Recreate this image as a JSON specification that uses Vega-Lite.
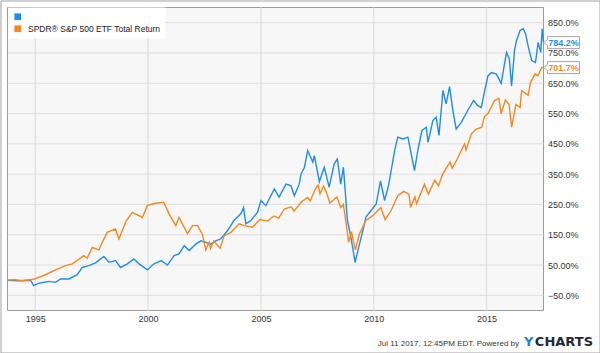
{
  "$schema": "https://vega.github.io/schema/vega-lite/v6.json",
  "width": 599,
  "height": 352,
  "autosize": {"type": "none"},
  "padding": {"left": 0.5, "top": 0.5, "right": 0.5, "bottom": 0.5},
  "background": "#ffffff",
  "config": {"view": {"stroke": "#a0a0a0", "strokeWidth": 1}, "font": "Liberation Sans", "axis": {"labelOverlap": false, "labelBound": false}},
  "title": {"text": "Y", "orient": "bottom", "anchor": "end", "frame": "group", "offset": -7, "dx": -66, "baseline": "alphabetic", "font": "DejaVu Sans", "fontSize": 13, "fontWeight": "bold", "color": "#1a86d8"},
  "datasets": {
    "xt": [{"t": "1995-01-01"}, {"t": "2000-01-01"}, {"t": "2005-01-01"}, {"t": "2010-01-01"}, {"t": "2015-01-01"}],
    "yt": [{"v": -50}, {"v": 50}, {"v": 150}, {"v": 250}, {"v": 350}, {"v": 450}, {"v": 550}, {"v": 650}, {"v": 750}, {"v": 850}],
    "s": [
      {"date": "1993-10-08", "series": "", "value": 0},
      {"date": "1994-04-08", "series": "", "value": -2},
      {"date": "1994-10-15", "series": "", "value": 0},
      {"date": "1994-12-05", "series": "", "value": -18},
      {"date": "1995-03-01", "series": "", "value": -10},
      {"date": "1995-08-08", "series": "", "value": -4},
      {"date": "1995-11-24", "series": "", "value": -7},
      {"date": "1996-02-15", "series": "", "value": 4},
      {"date": "1996-06-28", "series": "", "value": 4},
      {"date": "1996-11-10", "series": "", "value": 18},
      {"date": "1997-01-30", "series": "", "value": 42},
      {"date": "1997-05-18", "series": "", "value": 48},
      {"date": "1997-09-02", "series": "", "value": 57},
      {"date": "1998-01-15", "series": "", "value": 78},
      {"date": "1998-04-08", "series": "", "value": 59},
      {"date": "1998-07-22", "series": "", "value": 65},
      {"date": "1998-10-12", "series": "", "value": 42},
      {"date": "1999-01-30", "series": "", "value": 54},
      {"date": "1999-05-15", "series": "", "value": 70},
      {"date": "1999-08-08", "series": "", "value": 54},
      {"date": "1999-12-20", "series": "", "value": 34},
      {"date": "2000-04-05", "series": "", "value": 54},
      {"date": "2000-08-01", "series": "", "value": 65},
      {"date": "2000-11-10", "series": "", "value": 50},
      {"date": "2001-02-25", "series": "", "value": 81},
      {"date": "2001-05-15", "series": "", "value": 87},
      {"date": "2001-08-08", "series": "", "value": 114},
      {"date": "2001-10-28", "series": "", "value": 98},
      {"date": "2002-02-10", "series": "", "value": 119},
      {"date": "2002-05-05", "series": "", "value": 130},
      {"date": "2002-07-23", "series": "", "value": 125},
      {"date": "2002-10-12", "series": "", "value": 119},
      {"date": "2003-01-01", "series": "", "value": 130},
      {"date": "2003-03-22", "series": "", "value": 136},
      {"date": "2003-07-08", "series": "", "value": 163},
      {"date": "2003-10-22", "series": "", "value": 197},
      {"date": "2004-02-10", "series": "", "value": 219},
      {"date": "2004-03-25", "series": "", "value": 240},
      {"date": "2004-05-01", "series": "", "value": 186},
      {"date": "2004-07-22", "series": "", "value": 197},
      {"date": "2004-11-05", "series": "", "value": 224},
      {"date": "2005-01-01", "series": "", "value": 263},
      {"date": "2005-03-22", "series": "", "value": 246},
      {"date": "2005-08-05", "series": "", "value": 301},
      {"date": "2005-10-22", "series": "", "value": 274},
      {"date": "2006-02-10", "series": "", "value": 317},
      {"date": "2006-05-01", "series": "", "value": 312},
      {"date": "2006-06-25", "series": "", "value": 279},
      {"date": "2006-09-12", "series": "", "value": 317},
      {"date": "2006-10-12", "series": "", "value": 350},
      {"date": "2006-12-05", "series": "", "value": 372},
      {"date": "2007-01-28", "series": "", "value": 428},
      {"date": "2007-04-20", "series": "", "value": 390},
      {"date": "2007-05-15", "series": "", "value": 411},
      {"date": "2007-08-05", "series": "", "value": 325},
      {"date": "2007-10-22", "series": "", "value": 373},
      {"date": "2008-01-10", "series": "", "value": 307},
      {"date": "2008-04-01", "series": "", "value": 384},
      {"date": "2008-05-22", "series": "", "value": 400},
      {"date": "2008-07-15", "series": "", "value": 317},
      {"date": "2008-08-28", "series": "", "value": 373},
      {"date": "2008-11-01", "series": "", "value": 197},
      {"date": "2008-12-28", "series": "", "value": 141},
      {"date": "2009-03-05", "series": "", "value": 59},
      {"date": "2009-05-15", "series": "", "value": 119},
      {"date": "2009-07-08", "series": "", "value": 163},
      {"date": "2009-08-28", "series": "", "value": 208},
      {"date": "2009-11-18", "series": "", "value": 230},
      {"date": "2010-02-10", "series": "", "value": 252},
      {"date": "2010-04-20", "series": "", "value": 328},
      {"date": "2010-06-25", "series": "", "value": 263},
      {"date": "2010-08-28", "series": "", "value": 312},
      {"date": "2010-12-05", "series": "", "value": 428},
      {"date": "2011-01-25", "series": "", "value": 472},
      {"date": "2011-04-20", "series": "", "value": 466},
      {"date": "2011-07-08", "series": "", "value": 472},
      {"date": "2011-08-20", "series": "", "value": 428},
      {"date": "2011-10-22", "series": "", "value": 362},
      {"date": "2011-12-15", "series": "", "value": 428},
      {"date": "2012-02-20", "series": "", "value": 494},
      {"date": "2012-05-01", "series": "", "value": 505},
      {"date": "2012-05-28", "series": "", "value": 455},
      {"date": "2012-08-15", "series": "", "value": 527},
      {"date": "2012-10-08", "series": "", "value": 538},
      {"date": "2012-11-22", "series": "", "value": 478},
      {"date": "2012-12-28", "series": "", "value": 560},
      {"date": "2013-01-25", "series": "", "value": 626},
      {"date": "2013-03-18", "series": "", "value": 582},
      {"date": "2013-05-12", "series": "", "value": 639},
      {"date": "2013-07-05", "series": "", "value": 560},
      {"date": "2013-08-28", "series": "", "value": 499},
      {"date": "2013-11-18", "series": "", "value": 521},
      {"date": "2014-03-03", "series": "", "value": 560},
      {"date": "2014-06-05", "series": "", "value": 593},
      {"date": "2014-08-12", "series": "", "value": 576},
      {"date": "2014-10-08", "series": "", "value": 570},
      {"date": "2014-12-02", "series": "", "value": 626},
      {"date": "2015-01-25", "series": "", "value": 675},
      {"date": "2015-03-22", "series": "", "value": 685},
      {"date": "2015-06-10", "series": "", "value": 680},
      {"date": "2015-08-25", "series": "", "value": 650},
      {"date": "2015-11-20", "series": "", "value": 752},
      {"date": "2016-01-05", "series": "", "value": 730},
      {"date": "2016-02-10", "series": "", "value": 640},
      {"date": "2016-03-30", "series": "", "value": 760},
      {"date": "2016-05-01", "series": "", "value": 791},
      {"date": "2016-06-25", "series": "", "value": 824},
      {"date": "2016-08-18", "series": "", "value": 830},
      {"date": "2016-09-25", "series": "", "value": 813},
      {"date": "2016-11-08", "series": "", "value": 769},
      {"date": "2017-01-01", "series": "", "value": 725},
      {"date": "2017-03-03", "series": "", "value": 719},
      {"date": "2017-04-15", "series": "", "value": 785},
      {"date": "2017-05-28", "series": "", "value": 752},
      {"date": "2017-06-20", "series": "", "value": 830},
      {"date": "2017-07-11", "series": "", "value": 784.2},
      {"date": "1993-10-08", "series": "SPDR® S&P 500 ETF Total Return", "value": 0},
      {"date": "1994-02-01", "series": "SPDR® S&P 500 ETF Total Return", "value": 2},
      {"date": "1994-06-01", "series": "SPDR® S&P 500 ETF Total Return", "value": -2},
      {"date": "1994-12-05", "series": "SPDR® S&P 500 ETF Total Return", "value": 3},
      {"date": "1995-06-13", "series": "SPDR® S&P 500 ETF Total Return", "value": 18},
      {"date": "1995-11-24", "series": "SPDR® S&P 500 ETF Total Return", "value": 34},
      {"date": "1996-05-05", "series": "SPDR® S&P 500 ETF Total Return", "value": 48},
      {"date": "1996-08-22", "series": "SPDR® S&P 500 ETF Total Return", "value": 54},
      {"date": "1997-02-25", "series": "SPDR® S&P 500 ETF Total Return", "value": 81},
      {"date": "1997-04-20", "series": "SPDR® S&P 500 ETF Total Return", "value": 73},
      {"date": "1997-07-12", "series": "SPDR® S&P 500 ETF Total Return", "value": 108},
      {"date": "1997-10-27", "series": "SPDR® S&P 500 ETF Total Return", "value": 100},
      {"date": "1997-12-20", "series": "SPDR® S&P 500 ETF Total Return", "value": 125},
      {"date": "1998-03-10", "series": "SPDR® S&P 500 ETF Total Return", "value": 158},
      {"date": "1998-07-22", "series": "SPDR® S&P 500 ETF Total Return", "value": 169},
      {"date": "1998-09-15", "series": "SPDR® S&P 500 ETF Total Return", "value": 136},
      {"date": "1999-01-10", "series": "SPDR® S&P 500 ETF Total Return", "value": 195},
      {"date": "1999-04-20", "series": "SPDR® S&P 500 ETF Total Return", "value": 224},
      {"date": "1999-10-01", "series": "SPDR® S&P 500 ETF Total Return", "value": 207},
      {"date": "1999-12-20", "series": "SPDR® S&P 500 ETF Total Return", "value": 246},
      {"date": "2000-04-05", "series": "SPDR® S&P 500 ETF Total Return", "value": 253},
      {"date": "2000-09-10", "series": "SPDR® S&P 500 ETF Total Return", "value": 257},
      {"date": "2000-12-05", "series": "SPDR® S&P 500 ETF Total Return", "value": 219},
      {"date": "2001-03-25", "series": "SPDR® S&P 500 ETF Total Return", "value": 180},
      {"date": "2001-05-15", "series": "SPDR® S&P 500 ETF Total Return", "value": 208},
      {"date": "2001-09-30", "series": "SPDR® S&P 500 ETF Total Return", "value": 153},
      {"date": "2001-12-20", "series": "SPDR® S&P 500 ETF Total Return", "value": 180},
      {"date": "2002-03-10", "series": "SPDR® S&P 500 ETF Total Return", "value": 181},
      {"date": "2002-05-30", "series": "SPDR® S&P 500 ETF Total Return", "value": 150},
      {"date": "2002-07-23", "series": "SPDR® S&P 500 ETF Total Return", "value": 100},
      {"date": "2002-09-15", "series": "SPDR® S&P 500 ETF Total Return", "value": 125},
      {"date": "2002-10-10", "series": "SPDR® S&P 500 ETF Total Return", "value": 105},
      {"date": "2002-12-01", "series": "SPDR® S&P 500 ETF Total Return", "value": 130},
      {"date": "2003-03-10", "series": "SPDR® S&P 500 ETF Total Return", "value": 105},
      {"date": "2003-05-15", "series": "SPDR® S&P 500 ETF Total Return", "value": 146},
      {"date": "2003-09-01", "series": "SPDR® S&P 500 ETF Total Return", "value": 158},
      {"date": "2004-01-15", "series": "SPDR® S&P 500 ETF Total Return", "value": 186},
      {"date": "2004-04-05", "series": "SPDR® S&P 500 ETF Total Return", "value": 180},
      {"date": "2004-08-18", "series": "SPDR® S&P 500 ETF Total Return", "value": 175},
      {"date": "2004-12-15", "series": "SPDR® S&P 500 ETF Total Return", "value": 200},
      {"date": "2005-04-15", "series": "SPDR® S&P 500 ETF Total Return", "value": 195},
      {"date": "2005-07-30", "series": "SPDR® S&P 500 ETF Total Return", "value": 212},
      {"date": "2005-10-15", "series": "SPDR® S&P 500 ETF Total Return", "value": 205},
      {"date": "2006-01-15", "series": "SPDR® S&P 500 ETF Total Return", "value": 235},
      {"date": "2006-05-05", "series": "SPDR® S&P 500 ETF Total Return", "value": 242},
      {"date": "2006-06-20", "series": "SPDR® S&P 500 ETF Total Return", "value": 228},
      {"date": "2006-10-12", "series": "SPDR® S&P 500 ETF Total Return", "value": 257},
      {"date": "2007-01-25", "series": "SPDR® S&P 500 ETF Total Return", "value": 273},
      {"date": "2007-03-10", "series": "SPDR® S&P 500 ETF Total Return", "value": 262},
      {"date": "2007-05-30", "series": "SPDR® S&P 500 ETF Total Return", "value": 300},
      {"date": "2007-07-15", "series": "SPDR® S&P 500 ETF Total Return", "value": 314},
      {"date": "2007-08-15", "series": "SPDR® S&P 500 ETF Total Return", "value": 285},
      {"date": "2007-10-10", "series": "SPDR® S&P 500 ETF Total Return", "value": 310},
      {"date": "2007-11-25", "series": "SPDR® S&P 500 ETF Total Return", "value": 290},
      {"date": "2008-01-22", "series": "SPDR® S&P 500 ETF Total Return", "value": 255},
      {"date": "2008-05-15", "series": "SPDR® S&P 500 ETF Total Return", "value": 275},
      {"date": "2008-07-15", "series": "SPDR® S&P 500 ETF Total Return", "value": 240},
      {"date": "2008-08-28", "series": "SPDR® S&P 500 ETF Total Return", "value": 250},
      {"date": "2008-10-12", "series": "SPDR® S&P 500 ETF Total Return", "value": 186},
      {"date": "2008-11-20", "series": "SPDR® S&P 500 ETF Total Return", "value": 125},
      {"date": "2009-01-05", "series": "SPDR® S&P 500 ETF Total Return", "value": 160},
      {"date": "2009-03-09", "series": "SPDR® S&P 500 ETF Total Return", "value": 100},
      {"date": "2009-05-15", "series": "SPDR® S&P 500 ETF Total Return", "value": 153},
      {"date": "2009-08-28", "series": "SPDR® S&P 500 ETF Total Return", "value": 197},
      {"date": "2009-12-15", "series": "SPDR® S&P 500 ETF Total Return", "value": 213},
      {"date": "2010-04-25", "series": "SPDR® S&P 500 ETF Total Return", "value": 240},
      {"date": "2010-07-05", "series": "SPDR® S&P 500 ETF Total Return", "value": 200},
      {"date": "2010-10-08", "series": "SPDR® S&P 500 ETF Total Return", "value": 230},
      {"date": "2011-01-25", "series": "SPDR® S&P 500 ETF Total Return", "value": 279},
      {"date": "2011-05-01", "series": "SPDR® S&P 500 ETF Total Return", "value": 293},
      {"date": "2011-07-25", "series": "SPDR® S&P 500 ETF Total Return", "value": 284},
      {"date": "2011-08-20", "series": "SPDR® S&P 500 ETF Total Return", "value": 240},
      {"date": "2011-10-28", "series": "SPDR® S&P 500 ETF Total Return", "value": 275},
      {"date": "2011-11-25", "series": "SPDR® S&P 500 ETF Total Return", "value": 252},
      {"date": "2012-04-01", "series": "SPDR® S&P 500 ETF Total Return", "value": 317},
      {"date": "2012-06-03", "series": "SPDR® S&P 500 ETF Total Return", "value": 284},
      {"date": "2012-09-15", "series": "SPDR® S&P 500 ETF Total Return", "value": 330},
      {"date": "2012-11-15", "series": "SPDR® S&P 500 ETF Total Return", "value": 312},
      {"date": "2013-01-20", "series": "SPDR® S&P 500 ETF Total Return", "value": 350},
      {"date": "2013-05-20", "series": "SPDR® S&P 500 ETF Total Return", "value": 390},
      {"date": "2013-06-24", "series": "SPDR® S&P 500 ETF Total Return", "value": 370},
      {"date": "2013-09-15", "series": "SPDR® S&P 500 ETF Total Return", "value": 400},
      {"date": "2013-10-22", "series": "SPDR® S&P 500 ETF Total Return", "value": 417},
      {"date": "2014-01-10", "series": "SPDR® S&P 500 ETF Total Return", "value": 450},
      {"date": "2014-02-03", "series": "SPDR® S&P 500 ETF Total Return", "value": 430},
      {"date": "2014-05-01", "series": "SPDR® S&P 500 ETF Total Return", "value": 483},
      {"date": "2014-07-20", "series": "SPDR® S&P 500 ETF Total Return", "value": 499},
      {"date": "2014-10-15", "series": "SPDR® S&P 500 ETF Total Return", "value": 505},
      {"date": "2014-11-28", "series": "SPDR® S&P 500 ETF Total Return", "value": 540},
      {"date": "2015-01-25", "series": "SPDR® S&P 500 ETF Total Return", "value": 550},
      {"date": "2015-05-10", "series": "SPDR® S&P 500 ETF Total Return", "value": 593},
      {"date": "2015-07-20", "series": "SPDR® S&P 500 ETF Total Return", "value": 600},
      {"date": "2015-08-25", "series": "SPDR® S&P 500 ETF Total Return", "value": 550},
      {"date": "2015-11-03", "series": "SPDR® S&P 500 ETF Total Return", "value": 595},
      {"date": "2016-01-01", "series": "SPDR® S&P 500 ETF Total Return", "value": 580},
      {"date": "2016-02-11", "series": "SPDR® S&P 500 ETF Total Return", "value": 505},
      {"date": "2016-04-20", "series": "SPDR® S&P 500 ETF Total Return", "value": 580},
      {"date": "2016-06-27", "series": "SPDR® S&P 500 ETF Total Return", "value": 570},
      {"date": "2016-07-22", "series": "SPDR® S&P 500 ETF Total Return", "value": 626},
      {"date": "2016-11-03", "series": "SPDR® S&P 500 ETF Total Return", "value": 610},
      {"date": "2016-12-15", "series": "SPDR® S&P 500 ETF Total Return", "value": 653},
      {"date": "2017-02-25", "series": "SPDR® S&P 500 ETF Total Return", "value": 681},
      {"date": "2017-04-13", "series": "SPDR® S&P 500 ETF Total Return", "value": 675},
      {"date": "2017-06-12", "series": "SPDR® S&P 500 ETF Total Return", "value": 702},
      {"date": "2017-07-11", "series": "SPDR® S&P 500 ETF Total Return", "value": 701.7}
    ]
  },
  "layer": [
    {
      "data": {"values": [{}]},
      "mark": {"type": "rect", "fill": "#f7f7f7", "stroke": "#9c9c9c", "strokeWidth": 1},
      "encoding": {
        "x": {
          "datum": {"year": 1993, "month": 10, "date": 8, "utc": true},
          "type": "temporal",
          "scale": {"type": "utc", "domain": [{"year": 1993, "month": 10, "date": 8, "utc": true}, {"year": 2017, "month": 7, "date": 11, "utc": true}], "range": [7, 543], "nice": false}
        },
        "x2": {"datum": {"year": 2017, "month": 7, "date": 11, "utc": true}},
        "y": {
          "datum": -100,
          "type": "quantitative",
          "scale": {"domain": [-100, 900], "range": [310, 7], "nice": false, "zero": false}
        },
        "y2": {"datum": 900}
      }
    },
    {
      "data": {"name": "xt"},
      "mark": {"type": "rule", "color": "#e3e3e3", "strokeWidth": 1.5},
      "encoding": {
        "x": {"field": "t", "type": "temporal"},
        "y": {"datum": -100, "type": "quantitative"},
        "y2": {"datum": 900}
      }
    },
    {
      "data": {"name": "yt"},
      "mark": {"type": "rule", "color": "#dedede", "strokeWidth": 1},
      "encoding": {
        "y": {"field": "v", "type": "quantitative"},
        "x": {"datum": {"year": 1993, "month": 10, "date": 8, "utc": true}, "type": "temporal"},
        "x2": {"datum": {"year": 2017, "month": 7, "date": 11, "utc": true}}
      }
    },
    {
      "data": {"name": "s"},
      "mark": {"type": "line", "strokeWidth": 1.4, "interpolate": "linear"},
      "encoding": {
        "x": {
          "field": "date", "type": "temporal",
          "axis": {
            "orient": "bottom", "offset": -42, "tickCount": 20,
            "values": [{"year": 1995, "month": 1, "date": 1, "utc": true}, {"year": 2000, "month": 1, "date": 1, "utc": true}, {"year": 2005, "month": 1, "date": 1, "utc": true}, {"year": 2010, "month": 1, "date": 1, "utc": true}, {"year": 2015, "month": 1, "date": 1, "utc": true}],
            "format": "%Y", "grid": false, "domain": false, "ticks": false, "tickSize": 0,
            "labelPadding": 4, "labelFontSize": 9, "labelColor": "#333333", "labelFont": "Liberation Sans",
            "labelFlush": false, "labelOverlap": false,
            "title": "Jul 11 2017, 12:45PM EDT. Powered by",
            "titleX": 518, "titleY": 35, "titleAlign": "right", "titleAnchor": "end", "titleBaseline": "alphabetic",
            "titleFont": "Liberation Sans", "titleFontSize": 8, "titleFontWeight": "normal", "titleColor": "#333333"
          }
        },
        "y": {
          "field": "value", "type": "quantitative",
          "axis": {
            "orient": "right", "offset": -56, "tickCount": 20,
            "values": [-50, 50, 150, 250, 350, 450, 550, 650, 750, 850],
            "labelExpr": "datum.value == 50 ? '50.00%' : format(datum.value, '.1f') + '%'",
            "grid": false, "domain": false, "ticks": false, "tickSize": 0,
            "labelPadding": 4, "labelFontSize": 9, "labelColor": "#333333", "labelFont": "Liberation Sans",
            "labelFlush": false, "labelOverlap": false, "labelBaseline": "middle",
            "title": "CHARTS", "titleAngle": 0, "titleX": 49, "titleY": 345, "titleAlign": "right", "titleBaseline": "alphabetic",
            "titleFont": "DejaVu Sans", "titleFontSize": 13, "titleFontWeight": "bold", "titleColor": "#1c2a3c"
          }
        },
        "color": {
          "field": "series", "type": "nominal",
          "scale": {"domain": ["", "SPDR® S&P 500 ETF Total Return"], "range": ["#1f8ded", "#f7881f"]},
          "legend": {
            "orient": "none", "legendX": 8, "legendY": 7, "title": null,
            "symbolType": "square", "symbolSize": 45, "symbolStrokeWidth": 0,
            "labelFontSize": 8.5, "labelColor": "#222222", "labelFont": "Liberation Sans", "labelOffset": 6,
            "fillColor": "rgba(255,255,255,0.92)", "padding": 5, "rowPadding": 3,
            "encode": {"symbols": {"update": {"fill": {"scale": "color", "field": "value"}, "strokeWidth": {"value": 0}}}}
          }
        }
      }
    },
    {
      "data": {"name": "s"},
      "transform": [{"filter": "datum.value == 784.2 || datum.value == 701.7"}],
      "mark": {"type": "point", "shape": "M0,0 L0.4,-0.3 L0.4,-0.6 L3.6,-0.6 L3.6,0.6 L0.4,0.6 L0.4,0.3 Z", "size": 400, "filled": true, "fill": "#ffffff", "stroke": "#a8a8a8", "strokeWidth": 1, "opacity": 1},
      "encoding": {
        "x": {"field": "date", "type": "temporal"},
        "y": {"field": "value", "type": "quantitative"}
      }
    },
    {
      "data": {"name": "s"},
      "transform": [
        {"filter": "datum.value == 784.2 || datum.value == 701.7"},
        {"calculate": "format(datum.value, '.1f') + '%'", "as": "lbl"}
      ],
      "mark": {"type": "text", "dx": 20, "align": "center", "baseline": "middle", "fontSize": 9, "fontWeight": "bold", "font": "Liberation Sans"},
      "encoding": {
        "x": {"field": "date", "type": "temporal"},
        "y": {"field": "value", "type": "quantitative"},
        "text": {"field": "lbl"},
        "color": {"field": "series", "type": "nominal", "legend": null}
      }
    }
  ]
}
